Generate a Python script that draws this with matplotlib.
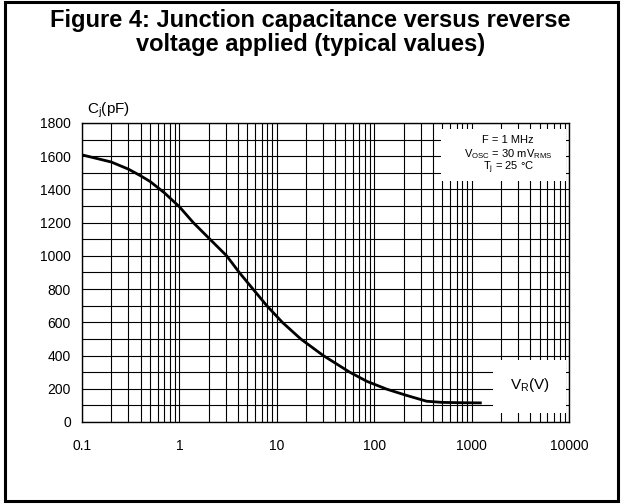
import numpy as np
import matplotlib
matplotlib.use('Agg')
import matplotlib.pyplot as plt
from matplotlib.patches import Rectangle
from matplotlib.ticker import MultipleLocator, FixedLocator, NullFormatter

plt.rcParams['font.family'] = ['Liberation Sans', 'DejaVu Sans']
plt.rcParams['mathtext.fontset'] = 'custom'
plt.rcParams['mathtext.rm'] = 'Liberation Sans'

# curve
vr = [0.1, 0.2, 0.3, 0.4, 0.5, 0.7, 1.0, 1.39, 2.06, 3.06, 4.12, 5.7,
      7.9, 11.4, 17.6, 30.0, 56.0, 84, 134, 215, 345, 500, 800, 1270]
cj = [1608, 1565, 1522, 1482, 1448, 1380, 1296, 1200, 1100, 1000, 900, 800,
      700, 600, 500, 400, 300, 245, 198, 160, 125, 118, 116, 115]

xticks = [0.1, 1, 10, 100, 1000, 10000]
xlabels = ['0.1', '1', '10', '100', '1000', '10000']
yticks = list(range(0, 1801, 200))

fig = plt.figure(figsize=(6.21, 5.04), dpi=100)
ax = fig.add_axes([0.1320, 0.1627, 0.7843, 0.5933])

ax.set_xscale('log')
ax.set_xlim(0.1, 10000)
ax.set_ylim(0, 1800)
ax.set_xticks(xticks)
ax.set_xticklabels(xlabels)
ax.xaxis.set_minor_locator(FixedLocator([m * 10.0**e for e in range(-1, 4) for m in range(2, 10)]))
ax.xaxis.set_minor_formatter(NullFormatter())
ax.set_yticks(yticks)
ax.yaxis.set_minor_locator(MultipleLocator(100))
ax.tick_params(which='both', length=0, labelsize=10)
ax.tick_params(axis='x', pad=12)
ax.tick_params(axis='y', pad=8)

ax.set_axisbelow(True)
ax.grid(which='both', color='black', lw=0.8)
for s in ax.spines.values():
    s.set_linewidth(1.0)

# white boxes that hide the grid behind the notes
ax.add_patch(Rectangle((0.737, 0.806), 0.257, 0.174, transform=ax.transAxes,
                       facecolor='white', edgecolor='none', zorder=1))
ax.add_patch(Rectangle((0.844, 0.030), 0.150, 0.177, transform=ax.transAxes,
                       facecolor='white', edgecolor='none', zorder=1))

ax.plot(vr, cj, color='black', lw=2, solid_capstyle='butt', zorder=3)

ax.text(0.875, 0.943, 'F = 1 MHz', transform=ax.transAxes, ha='center', va='center', fontsize=8, zorder=4)
ax.text(0.875, 0.896, r'V$_\mathregular{OSC}$ = 30 mV$_\mathregular{RMS}$', transform=ax.transAxes,
        ha='center', va='center', fontsize=8, zorder=4)
ax.text(0.875, 0.849, r'T$_\mathregular{j}$ = 25 °C', transform=ax.transAxes, ha='center', va='center',
        fontsize=8, zorder=4)
ax.text(0.92, 0.124, r'V$_\mathregular{R}$(V)', transform=ax.transAxes, ha='center', va='center',
        fontsize=11, zorder=4)

fig.text(0.1396, 0.776, r'C$_\mathregular{j}$(pF)', ha='left', va='baseline', fontsize=11)

fig.text(0.4995, 0.947, 'Figure 4: Junction capacitance versus reverse', ha='center', va='baseline',
         fontsize=17, fontweight='bold')
fig.text(0.4995, 0.899, 'voltage applied (typical values)', ha='center', va='baseline',
         fontsize=17, fontweight='bold')

fig.add_artist(Rectangle((5 / 621, 3 / 504), 612.5 / 621, 499.5 / 504, transform=fig.transFigure,
                         facecolor='none', edgecolor='black', lw=2.2))

fig.savefig('out.png', dpi=100)
